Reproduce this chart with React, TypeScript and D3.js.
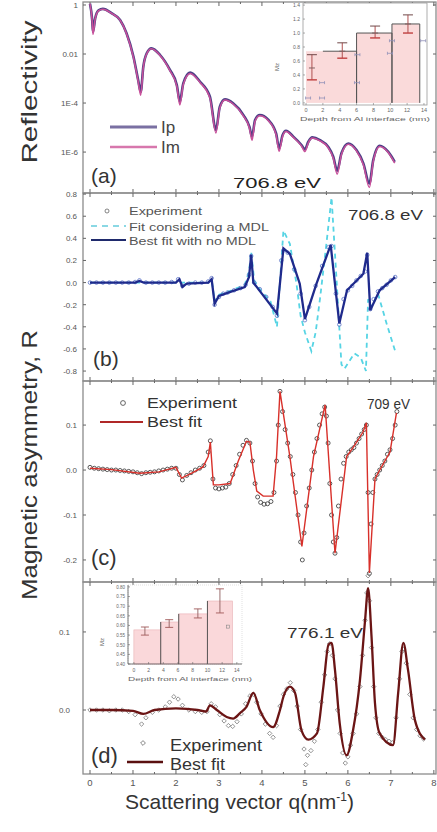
import React from 'react';
import * as d3 from 'd3';

// ---------- Panel (a): reflectivity (log10 R) ----------
const reflQ = [0.0, 0.05, 0.07, 0.12, 0.2, 0.3, 0.5, 0.7, 0.85, 1.01, 1.12, 1.18, 1.24, 1.32, 1.43, 1.63, 1.86, 2.02, 2.09, 2.17, 2.33, 2.56, 2.79, 2.93, 3.02, 3.14, 3.33, 3.57, 3.71, 3.77, 3.84, 3.95, 4.15, 4.33, 4.4, 4.48, 4.56, 4.73, 4.92, 5.0, 5.08, 5.17, 5.35, 5.54, 5.66, 5.75, 5.85, 6.01, 6.2, 6.36, 6.5, 6.59, 6.74, 6.94, 7.09];
const ipLog = [0.05, -0.6, -1.1, -0.55, -0.22, -0.16, -0.33, -0.61, -1.15, -2.1, -3.06, -3.55, -2.52, -1.97, -1.77, -2.04, -2.65, -3.27, -3.95, -3.2, -2.76, -3.13, -3.74, -5.1, -4.15, -3.85, -4.01, -4.49, -4.97, -5.37, -4.69, -4.49, -4.69, -5.24, -5.85, -5.31, -5.13, -5.37, -5.71, -5.89, -5.58, -5.4, -5.51, -5.78, -6.19, -6.76, -6.05, -5.65, -5.92, -6.46, -7.28, -6.33, -5.74, -5.99, -6.4];
const imLog = [0.05, -0.65, -1.2, -0.57, -0.23, -0.17, -0.34, -0.62, -1.17, -2.14, -3.12, -3.68, -2.55, -1.99, -1.79, -2.06, -2.68, -3.32, -4.08, -3.24, -2.79, -3.16, -3.8, -5.22, -4.2, -3.88, -4.04, -4.53, -5.03, -5.52, -4.74, -4.52, -4.72, -5.3, -5.97, -5.36, -5.16, -5.4, -5.75, -5.98, -5.62, -5.43, -5.54, -5.82, -6.25, -6.9, -6.1, -5.68, -5.95, -6.52, -7.45, -6.38, -5.77, -6.02, -6.45];
const aTickVals = [0, -2, -4, -6];
const aTickLabels = ['1', '0.01', '1E-4', '1E-6'];

// inset (a): Mz depth profile
const insAStart = [0, 6.0, 10.2];
const insAEnd = [6.0, 10.2, 13.5];
const insAVal = [0.74, 1.0, 1.13];
const insAErrQ = [0.7, 4.3, 8.2, 12.1];
const insAErrLo = [0.33, 0.64, 0.93, 1.0];
const insAErrMid = [0.5, 0.74, 1.0, 1.13];
const insAErrHi = [0.69, 0.86, 1.1, 1.26];
const insAMarkQ = [1.9, 6.05, 6.1, 9.96, 10.2, 13.9, 0.24, 1.9];
const insAMarkV = [0.29, 0.29, 0.69, 0.71, 0.89, 0.89, 0.07, 0.07];
const insAYTicks = [0, 0.2, 0.4, 0.6, 0.8, 1.0, 1.2, 1.4];
const insXTicks = [0, 2, 4, 6, 8, 10, 12, 14];

// ---------- Panel (b): 706.8 eV ----------
const bExp: [number, number][] = [[0.0, 0.0], [0.15, 0.0], [0.3, 0.0], [0.45, 0.0], [0.6, 0.0], [0.75, 0.0], [0.9, 0.0], [1.05, 0.005], [1.15, 0.02], [1.3, 0.0], [1.45, 0.0], [1.6, 0.0], [1.75, 0.0], [1.9, 0.005], [2.05, 0.03], [2.15, -0.03], [2.3, -0.01], [2.45, 0.0], [2.6, 0.0], [2.75, 0.01], [2.83, 0.04], [2.9, -0.2], [3.0, -0.13], [3.1, -0.1], [3.2, -0.09], [3.35, -0.07], [3.5, -0.05], [3.62, -0.02], [3.7, 0.07], [3.75, 0.24], [3.82, 0.0], [3.95, -0.06], [4.1, -0.13], [4.25, -0.22], [4.35, -0.3], [4.45, 0.2], [4.5, 0.29], [4.6, 0.27], [4.75, 0.12], [4.9, -0.1], [5.0, -0.34], [5.1, -0.22], [5.25, -0.03], [5.4, 0.15], [5.55, 0.32], [5.62, 0.33], [5.72, -0.1], [5.8, -0.38], [5.9, -0.15], [6.0, -0.07], [6.1, -0.03], [6.2, 0.02], [6.3, 0.06], [6.4, 0.1], [6.45, 0.25], [6.52, -0.24], [6.6, -0.15], [6.7, -0.08], [6.8, -0.05], [6.9, -0.02], [7.0, 0.02], [7.1, 0.05]];
const bBest: [number, number][] = [[0, 0], [1.05, 0.0], [1.15, 0.015], [1.25, 0.0], [2.0, 0.0], [2.08, 0.03], [2.15, -0.04], [2.25, -0.01], [2.75, 0.0], [2.83, 0.03], [2.9, -0.19], [3.0, -0.12], [3.3, -0.08], [3.6, -0.04], [3.7, 0.05], [3.75, 0.25], [3.8, 0.0], [3.9, -0.05], [4.35, -0.28], [4.5, 0.31], [4.65, 0.26], [4.88, -0.01], [5.0, -0.33], [5.27, -0.01], [5.6, 0.34], [5.8, -0.37], [5.98, -0.07], [6.36, 0.08], [6.45, 0.27], [6.52, -0.25], [6.74, -0.07], [7.1, 0.05]];
const bMdl: [number, number][] = [[0, 0], [2.75, 0.0], [2.83, 0.03], [2.9, -0.17], [3.0, -0.11], [3.3, -0.07], [3.6, -0.02], [3.7, 0.1], [3.75, 0.28], [3.82, 0.02], [3.95, -0.06], [4.2, -0.17], [4.35, -0.4], [4.5, 0.47], [4.65, 0.35], [4.8, 0.0], [4.9, -0.3], [5.0, -0.45], [5.15, -0.62], [5.25, -0.45], [5.35, -0.15], [5.5, 0.35], [5.62, 0.77], [5.74, 0.0], [5.85, -0.74], [5.92, -0.78], [6.15, -0.64], [6.3, -0.68], [6.42, -0.8], [6.47, -0.15], [6.55, -0.22], [6.7, -0.1], [6.9, -0.37], [7.1, -0.62]];
const bTicks = [0.8, 0.6, 0.4, 0.2, 0.0, -0.2, -0.4, -0.6, -0.8];

// ---------- Panel (c): 709 eV ----------
const cExp: [number, number][] = [[0.0, 0.006], [0.1, 0.004], [0.2, 0.003], [0.3, 0.002], [0.4, 0.001], [0.5, 0.0], [0.6, 0.0], [0.7, -0.001], [0.8, -0.002], [0.9, -0.003], [1.0, -0.004], [1.1, -0.006], [1.2, -0.008], [1.3, -0.006], [1.4, -0.005], [1.5, -0.004], [1.6, -0.002], [1.7, 0.0], [1.8, 0.002], [1.9, 0.004], [2.0, 0.004], [2.08, -0.01], [2.15, -0.022], [2.25, -0.012], [2.35, -0.006], [2.45, 0.0], [2.55, 0.004], [2.65, 0.01], [2.75, 0.04], [2.8, 0.065], [2.86, -0.02], [2.92, -0.04], [3.0, -0.042], [3.08, -0.04], [3.16, -0.038], [3.24, -0.03], [3.32, -0.01], [3.4, 0.01], [3.48, 0.035], [3.56, 0.055], [3.64, 0.066], [3.72, 0.06], [3.78, 0.02], [3.84, -0.03], [3.9, -0.06], [3.97, -0.072], [4.05, -0.076], [4.13, -0.075], [4.21, -0.07], [4.28, -0.05], [4.34, 0.02], [4.38, 0.1], [4.42, 0.175], [4.48, 0.13], [4.54, 0.09], [4.6, 0.06], [4.66, 0.03], [4.72, -0.01], [4.78, -0.05], [4.84, -0.1], [4.9, -0.16], [4.94, -0.2], [4.98, -0.14], [5.04, -0.08], [5.1, -0.04], [5.16, 0.0], [5.22, 0.04], [5.28, 0.07], [5.34, 0.1], [5.4, 0.125], [5.46, 0.14], [5.5, 0.12], [5.54, 0.06], [5.58, -0.03], [5.62, -0.1], [5.66, -0.16], [5.7, -0.185], [5.74, -0.15], [5.78, -0.08], [5.84, -0.02], [5.9, 0.015], [5.96, 0.03], [6.02, 0.04], [6.08, 0.045], [6.14, 0.05], [6.2, 0.06], [6.26, 0.07], [6.32, 0.08], [6.38, 0.09], [6.43, 0.1], [6.47, -0.05], [6.5, -0.23], [6.54, -0.12], [6.58, -0.05], [6.63, -0.02], [6.68, -0.01], [6.74, 0.0], [6.8, 0.01], [6.86, 0.02], [6.92, 0.035], [6.98, 0.045], [7.04, 0.07], [7.1, 0.1], [7.14, 0.13]];
const cBest: [number, number][] = [[0, 0.004], [0.5, 0.001], [1.16, -0.007], [1.6, -0.004], [2.0, 0.006], [2.13, -0.018], [2.4, -0.005], [2.63, 0.007], [2.75, 0.03], [2.8, 0.062], [2.87, -0.033], [3.0, -0.033], [3.26, -0.03], [3.45, 0.02], [3.64, 0.064], [3.72, 0.062], [3.8, 0.0], [3.88, -0.047], [4.03, -0.058], [4.26, -0.058], [4.34, 0.03], [4.42, 0.175], [4.65, 0.03], [4.93, -0.17], [5.2, 0.03], [5.47, 0.145], [5.7, -0.185], [5.97, 0.03], [6.12, 0.05], [6.35, 0.084], [6.43, 0.105], [6.5, -0.229], [6.63, -0.02], [6.74, 0.0], [6.98, 0.04], [7.13, 0.127]];
const cTicks = [0.1, 0.0, -0.1, -0.2];

// ---------- Panel (d): 776.1 eV ----------
const dExp: [number, number][] = [[0.0, 0.0], [0.15, 0.0], [0.3, 0.0], [0.45, -0.001], [0.6, 0.0], [0.75, 0.0], [0.9, -0.002], [1.05, -0.006], [1.2, -0.018], [1.3, -0.01], [1.45, -0.003], [1.6, 0.0], [1.75, 0.004], [1.85, 0.01], [1.95, 0.017], [2.05, 0.014], [2.15, 0.006], [2.3, 0.0], [2.45, -0.002], [2.6, -0.003], [2.72, -0.002], [2.82, 0.008], [2.92, 0.004], [3.02, -0.006], [3.12, -0.014], [3.22, -0.02], [3.32, -0.021], [3.42, -0.015], [3.52, -0.005], [3.62, 0.008], [3.72, 0.018], [3.8, 0.02], [3.88, 0.01], [3.98, -0.005], [4.08, -0.018], [4.18, -0.03], [4.26, -0.035], [4.34, -0.02], [4.42, 0.005], [4.5, 0.02], [4.58, 0.027], [4.66, 0.035], [4.74, 0.025], [4.82, 0.005], [4.9, -0.025], [4.98, -0.05], [5.02, -0.07], [5.06, -0.058], [5.14, -0.052], [5.22, -0.04], [5.3, -0.025], [5.38, 0.01], [5.46, 0.045], [5.52, 0.075], [5.58, 0.085], [5.64, 0.07], [5.7, 0.04], [5.76, 0.0], [5.82, -0.03], [5.88, -0.055], [5.94, -0.068], [6.0, -0.06], [6.06, -0.045], [6.12, -0.03], [6.2, -0.005], [6.28, 0.03], [6.34, 0.07], [6.4, 0.115], [6.44, 0.15], [6.47, 0.172], [6.5, 0.14], [6.55, 0.08], [6.6, 0.03], [6.65, -0.01], [6.72, -0.03], [6.8, -0.035], [6.88, -0.038], [6.96, -0.04], [7.04, -0.042], [7.12, -0.01], [7.2, 0.04], [7.26, 0.075], [7.3, 0.078], [7.36, 0.06], [7.44, 0.02], [7.52, -0.01], [7.6, -0.025], [7.68, -0.033], [7.76, -0.037]];
const dBest: [number, number][] = [[0, 0.0], [0.5, 0.0], [1.0, -0.001], [1.24, -0.005], [1.5, 0.0], [2.0, 0.002], [2.5, 0.0], [2.7, -0.002], [2.79, 0.006], [2.95, 0.0], [3.18, -0.009], [3.33, -0.011], [3.49, -0.004], [3.64, 0.004], [3.8, 0.022], [3.95, 0.0], [4.26, -0.022], [4.42, 0.0], [4.5, 0.017], [4.65, 0.03], [4.77, 0.022], [4.92, -0.026], [5.08, -0.038], [5.28, -0.03], [5.43, 0.03], [5.55, 0.084], [5.62, 0.086], [5.7, 0.051], [5.81, -0.017], [5.97, -0.058], [6.12, -0.026], [6.28, 0.038], [6.4, 0.115], [6.47, 0.156], [6.55, 0.094], [6.63, 0.009], [6.74, -0.03], [7.05, -0.045], [7.17, 0.022], [7.29, 0.086], [7.4, 0.051], [7.56, -0.013], [7.79, -0.038]];
const dTicks = [0.1, 0.0];

// inset (d)
const insDStart = [0, 3.65, 6.1, 10.0];
const insDEnd = [3.65, 6.1, 10.0, 13.4];
const insDVal = [0.577, 0.618, 0.66, 0.727];
const insDErrQ = [1.5, 4.8, 8.7, 11.7];
const insDErrLo = [0.55, 0.59, 0.639, 0.665];
const insDErrHi = [0.592, 0.63, 0.686, 0.79];
const insDYTicks = [0.4, 0.45, 0.5, 0.55, 0.6, 0.65, 0.7, 0.75, 0.8];

const xTickLabels = ['0', '1', '2', '3', '4', '5', '6', '7', '8'];

const FONT = 'Liberation Sans, Arial, Helvetica, sans-serif';
const FRAME = '#8c8c8c';
const TICKC = '#666';

export default function App() {
  const XL = 83, XR = 436;
  const pa = [2, 193], pb = [193, 381], pc = [381, 582], pd = [582, 774];
  const x = d3.scaleLinear().domain([-0.163, 8.05]).range([XL, XR]);
  const yA = d3.scaleLog().domain([Math.pow(10, -7.67), Math.pow(10, 0.122)]).range([pa[1], pa[0]]);
  const yB = d3.scaleLinear().domain([-0.89, 0.81]).range([pb[1], pb[0]]);
  const yC = d3.scaleLinear().domain([-0.249, 0.198]).range([pc[1], pc[0]]);
  const yD = d3.scaleLinear().domain([-0.082, 0.164]).range([pd[1], pd[0]]);

  const reflIp = reflQ.map((q, i) => [q, Math.pow(10, ipLog[i])] as [number, number]);
  const reflIm = reflQ.map((q, i) => [q, Math.pow(10, imLog[i])] as [number, number]);
  const lineA = d3.line<[number, number]>().x(d => x(d[0])).y(d => yA(d[1])).curve(d3.curveMonotoneX);
  const lineB = d3.line<[number, number]>().x(d => x(d[0])).y(d => yB(d[1]));
  const lineC = d3.line<[number, number]>().x(d => x(d[0])).y(d => yC(d[1]));
  const lineD = d3.line<[number, number]>().x(d => x(d[0])).y(d => yD(d[1])).curve(d3.curveMonotoneX);

  const xMinor = d3.range(0, 8.01, 0.5);

  const frame = (p: number[], key: string) => (
    <g key={key}>
      <rect x={XL} y={p[0]} width={XR - XL} height={p[1] - p[0]} fill="none" stroke={FRAME} strokeWidth={1.3} />
      {xMinor.map(q => {
        const len = Math.abs(q - Math.round(q)) < 1e-6 ? 4 : 2;
        return (
          <g key={q}>
            <line x1={x(q)} x2={x(q)} y1={p[0]} y2={p[0] + len} stroke={TICKC} strokeWidth={1} />
            <line x1={x(q)} x2={x(q)} y1={p[1]} y2={p[1] - len} stroke={TICKC} strokeWidth={1} />
          </g>
        );
      })}
    </g>
  );

  const yTickMarks = (ys: number[], key: string) => (
    <g key={key}>
      {ys.map((yy, i) => (
        <g key={i}>
          <line x1={XL} x2={XL + 3} y1={yy} y2={yy} stroke={TICKC} strokeWidth={1} />
          <line x1={XR} x2={XR - 3} y1={yy} y2={yy} stroke={TICKC} strokeWidth={1} />
        </g>
      ))}
    </g>
  );

  // inset (a) scales
  const iax = d3.scaleLinear().domain([-0.36, 14.36]).range([303, 427]);
  const iay = d3.scaleLinear().domain([-0.03, 1.43]).range([105, 3]);
  // inset (d) scales
  const idx = d3.scaleLinear().domain([-0.8, 14.7]).range([128, 242]);
  const idy = d3.scaleLinear().domain([0.4, 0.81]).range([664, 585]);

  const diamond = (cx: number, cy: number, s: number) => `M${cx},${cy - s}L${cx + s},${cy}L${cx},${cy + s}L${cx - s},${cy}Z`;

  return (
    <svg width={437} height={832} style={{ position: 'absolute', left: 0, top: 0, background: '#fff' }} fontFamily={FONT}>
      <rect x={0} y={0} width={437} height={832} fill="#fff" />

      {/* ===== Panel (a) ===== */}
      {frame(pa, 'fa')}
      {yTickMarks(aTickVals.map(v => yA(Math.pow(10, v))), 'ta')}
      {aTickVals.map((v, i) => (
        <text key={i} x={78} y={yA(Math.pow(10, v)) + 3} fontSize={8} fill="#555" textAnchor="end">{aTickLabels[i]}</text>
      ))}
      <path d={lineA(reflIp) || ''} fill="none" stroke="#4b3f86" strokeWidth={2.6} />
      <path d={lineA(reflIm) || ''} fill="none" stroke="#c8509a" strokeWidth={1.5} />
      <line x1={110} x2={157} y1={127} y2={127} stroke="#7a70a2" strokeWidth={3} />
      <text x={161} y={133} fontSize={17} fill="#444">Ip</text>
      <line x1={110} x2={157} y1={147} y2={147} stroke="#d777ad" strokeWidth={2.5} />
      <text x={161} y={153} fontSize={17} fill="#444">Im</text>
      <text x={91} y={183} fontSize={21} fill="#333">(a)</text>
      <text x={233} y={188} fontSize={15} fill="#222" textLength={88} lengthAdjust="spacingAndGlyphs">706.8 eV</text>
      <text transform="translate(37,92) rotate(-90)" fontSize={22} fill="#333" textAnchor="middle" textLength={143} lengthAdjust="spacingAndGlyphs">Reflectivity</text>

      {/* inset (a) */}
      <g>
        <rect x={303} y={3} width={124} height={102} fill="#fff" stroke="#999" strokeWidth={0.8} />
        {insAStart.map((s, i) => (
          <rect key={i} x={iax(s)} y={iay(insAVal[i])} width={iax(insAEnd[i]) - iax(s)} height={iay(0) - iay(insAVal[i])} fill="#fadada" stroke="none" />
        ))}
        <path d={`M${iax(2)},${iay(insAVal[0])}H${iax(insAEnd[0])}V${iay(0)}`} fill="none" stroke="#555" strokeWidth={1} />
        {insAStart.slice(1).map((s, j) => {
          const i = j + 1;
          return <path key={i} d={`M${iax(s)},${iay(0)}V${iay(insAVal[i])}H${iax(insAEnd[i])}V${iay(0)}`} fill="none" stroke="#555" strokeWidth={1} />;
        })}
        {insAErrQ.map((q, i) => (
          <g key={i} stroke="#b05050" strokeWidth={1}>
            <line x1={iax(q)} x2={iax(q)} y1={iay(insAErrLo[i])} y2={iay(insAErrHi[i])} />
            <line x1={iax(q) - 5} x2={iax(q) + 5} y1={iay(insAErrHi[i])} y2={iay(insAErrHi[i])} stroke="#704848" />
            <line x1={iax(q) - 5} x2={iax(q) + 5} y1={iay(insAErrLo[i])} y2={iay(insAErrLo[i])} stroke="#c04040" strokeWidth={1.4} />
            <line x1={iax(q) - 3} x2={iax(q) + 3} y1={iay(insAErrMid[i])} y2={iay(insAErrMid[i])} stroke="#806060" />
          </g>
        ))}
        {insAMarkQ.map((q, i) => (
          <g key={i} stroke="#9090b8" strokeWidth={0.8}>
            <line x1={iax(q) - 2.5} x2={iax(q) + 2.5} y1={iay(insAMarkV[i])} y2={iay(insAMarkV[i])} />
            <line x1={iax(q) - 2.5} x2={iax(q) - 2.5} y1={iay(insAMarkV[i]) - 1.5} y2={iay(insAMarkV[i]) + 1.5} />
            <line x1={iax(q) + 2.5} x2={iax(q) + 2.5} y1={iay(insAMarkV[i]) - 1.5} y2={iay(insAMarkV[i]) + 1.5} />
          </g>
        ))}
        {insAYTicks.map((v, i) => (
          <g key={i}>
            <line x1={303} x2={305} y1={iay(v)} y2={iay(v)} stroke="#777" strokeWidth={0.6} />
            <text x={300} y={iay(v) + 2} fontSize={5} fill="#666" textAnchor="end">{v.toFixed(1)}</text>
          </g>
        ))}
        {insXTicks.map((v, i) => (
          <g key={i}>
            <line x1={iax(v)} x2={iax(v)} y1={105} y2={103} stroke="#777" strokeWidth={0.6} />
            <text x={iax(v)} y={112} fontSize={5.5} fill="#666" textAnchor="middle">{v}</text>
          </g>
        ))}
        <text x={365} y={121} fontSize={6} fill="#666" textAnchor="middle" textLength={130} lengthAdjust="spacingAndGlyphs">Depth from Al interface (nm)</text>
        <text transform="translate(279,67) rotate(-90)" fontSize={6} fill="#666" textAnchor="middle">Mz</text>
      </g>

      {/* ===== Panel (b) ===== */}
      {frame(pb, 'fb')}
      {yTickMarks(bTicks.map(v => yB(v)), 'tb')}
      {bTicks.map((v, i) => (
        <text key={i} x={77} y={yB(v) + 3} fontSize={8} fill="#555" textAnchor="end">{v.toFixed(1)}</text>
      ))}
      <path d={lineB(bMdl) || ''} fill="none" stroke="#56d4e4" strokeWidth={1.8} strokeDasharray="5,4" />
      {bExp.map((d, i) => (
        <circle key={i} cx={x(d[0])} cy={yB(d[1])} r={1.8} fill="none" stroke="#5c74c8" strokeWidth={0.8} />
      ))}
      <path d={lineB(bBest) || ''} fill="none" stroke="#1f2a8c" strokeWidth={2.3} />
      <circle cx={107} cy={211} r={2} fill="none" stroke="#666" strokeWidth={0.8} />
      <text x={129} y={215} fontSize={10} fill="#555" textLength={73} lengthAdjust="spacingAndGlyphs">Experiment</text>
      <line x1={91} x2={126} y1={226} y2={226} stroke="#8ad8e4" strokeWidth={2} strokeDasharray="6,5" />
      <text x={129} y={231} fontSize={10} fill="#555" textLength={140} lengthAdjust="spacingAndGlyphs">Fit considering a MDL</text>
      <line x1={91} x2={126} y1={240} y2={240} stroke="#1f2a6c" strokeWidth={1.8} />
      <text x={129} y={245} fontSize={10} fill="#555" textLength={127} lengthAdjust="spacingAndGlyphs">Best fit with no MDL</text>
      <text x={348} y={220} fontSize={14} fill="#333" textLength={75} lengthAdjust="spacingAndGlyphs">706.8 eV</text>
      <text x={93} y={366} fontSize={21} fill="#333">(b)</text>

      {/* ===== Panel (c) ===== */}
      {frame(pc, 'fc')}
      {yTickMarks(cTicks.map(v => yC(v)), 'tc')}
      {cTicks.map((v, i) => (
        <text key={i} x={77} y={yC(v) + 3} fontSize={8} fill="#555" textAnchor="end">{v.toFixed(1)}</text>
      ))}
      {cExp.map((d, i) => (
        <circle key={i} cx={x(d[0])} cy={yC(d[1])} r={2} fill="none" stroke="#333" strokeWidth={0.8} />
      ))}
      <path d={lineC(cBest) || ''} fill="none" stroke="#d8302a" strokeWidth={1.4} />
      <circle cx={123} cy={403} r={2.4} fill="none" stroke="#555" strokeWidth={0.9} />
      <text x={147} y={408} fontSize={15} fill="#333" textLength={90} lengthAdjust="spacingAndGlyphs">Experiment</text>
      <line x1={100} x2={143} y1={422} y2={422} stroke="#b02828" strokeWidth={2} />
      <text x={147} y={427} fontSize={15} fill="#333" textLength={55} lengthAdjust="spacingAndGlyphs">Best fit</text>
      <text x={367} y={409} fontSize={15} fill="#333" textLength={43} lengthAdjust="spacingAndGlyphs">709 eV</text>
      <text x={91} y={565} fontSize={22} fill="#333">(c)</text>

      {/* ===== Panel (d) ===== */}
      {frame(pd, 'fd')}
      {yTickMarks(dTicks.map(v => yD(v)), 'td')}
      {dTicks.map((v, i) => (
        <text key={i} x={70} y={yD(v) + 3} fontSize={8} fill="#555" textAnchor="end">{v.toFixed(1)}</text>
      ))}
      {dExp.map((d, i) => (
        <path key={i} d={diamond(x(d[0]), yD(d[1]), 2.2)} fill="none" stroke="#777" strokeWidth={0.8} />
      ))}
      <path d={lineD(dBest) || ''} fill="none" stroke="#6b1515" strokeWidth={2.3} />
      <path d={diamond(143, 743, 2.4)} fill="none" stroke="#777" strokeWidth={0.9} />
      <text x={170} y={751} fontSize={16} fill="#333" textLength={92} lengthAdjust="spacingAndGlyphs">Experiment</text>
      <line x1={127} x2={163} y1={762} y2={762} stroke="#5a1010" strokeWidth={2.5} />
      <text x={170} y={770} fontSize={16} fill="#333" textLength={55} lengthAdjust="spacingAndGlyphs">Best fit</text>
      <text x={287} y={638} fontSize={15} fill="#333" textLength={76} lengthAdjust="spacingAndGlyphs">776.1 eV</text>
      <text x={91} y={763} fontSize={22} fill="#333">(d)</text>

      {/* inset (d) */}
      <g>
        <rect x={128} y={585} width={114} height={79} fill="#fff" stroke="#ccc" strokeWidth={0.6} strokeDasharray="1,1" />
        {insDStart.map((s, i) => (
          <rect key={i} x={idx(s)} y={idy(insDVal[i])} width={idx(insDEnd[i]) - idx(s)} height={idy(0.4) - idy(insDVal[i])} fill="#fad8da" stroke="#e8b0b4" strokeWidth={0.6} />
        ))}
        {insDStart.slice(1).map((s, i) => (
          <line key={i} x1={idx(s)} x2={idx(s)} y1={idy(0.4)} y2={idy(Math.max(insDVal[i], insDVal[i + 1]))} stroke="#555" strokeWidth={1} />
        ))}
        {insDErrQ.map((q, i) => (
          <g key={i} strokeWidth={0.9}>
            <line x1={idx(q)} x2={idx(q)} y1={idy(insDErrLo[i])} y2={idy(insDErrHi[i])} stroke="#906060" />
            <line x1={idx(q) - 4} x2={idx(q) + 4} y1={idy(insDErrHi[i])} y2={idy(insDErrHi[i])} stroke="#a05858" />
            <line x1={idx(q) - 4} x2={idx(q) + 4} y1={idy(insDErrLo[i])} y2={idy(insDErrLo[i])} stroke="#a05858" />
          </g>
        ))}
        <rect x={idx(12.8) - 1.5} y={idy(0.594) - 1.5} width={3} height={3} fill="none" stroke="#888" strokeWidth={0.6} />
        <line x1={128} x2={242} y1={664} y2={664} stroke="#555" strokeWidth={0.8} />
        <line x1={128} x2={128} y1={585} y2={664} stroke="#555" strokeWidth={0.8} />
        {insDYTicks.map((v, i) => (
          <g key={i}>
            <line x1={128} x2={130} y1={idy(v)} y2={idy(v)} stroke="#666" strokeWidth={0.6} />
            <text x={125} y={idy(v) + 1.8} fontSize={4.5} fill="#666" textAnchor="end">{v.toFixed(2)}</text>
          </g>
        ))}
        {insXTicks.map((v, i) => (
          <g key={i}>
            <line x1={idx(v)} x2={idx(v)} y1={664} y2={662} stroke="#666" strokeWidth={0.6} />
            <text x={idx(v)} y={672} fontSize={5} fill="#666" textAnchor="middle">{v}</text>
          </g>
        ))}
        <text x={190} y={681} fontSize={5.5} fill="#666" textAnchor="middle" textLength={124} lengthAdjust="spacingAndGlyphs">Depth from Al interface (nm)</text>
        <text transform="translate(104,642) rotate(-90)" fontSize={6} fill="#666" textAnchor="middle">Mz</text>
      </g>

      {/* bottom axis labels */}
      {xTickLabels.map((t, i) => (
        <text key={i} x={x(i)} y={786} fontSize={9.5} fill="#555" textAnchor="middle">{t}</text>
      ))}
      <text x={125} y={809} fontSize={21} fill="#333">
        Scattering vector q(nm<tspan fontSize={12} dy={-8}>-1</tspan><tspan dy={8}>)</tspan>
      </text>
      <text transform="translate(37,465) rotate(-90)" fontSize={22} fill="#333" textAnchor="middle" textLength={270} lengthAdjust="spacingAndGlyphs">Magnetic asymmetry, R</text>
    </svg>
  );
}
